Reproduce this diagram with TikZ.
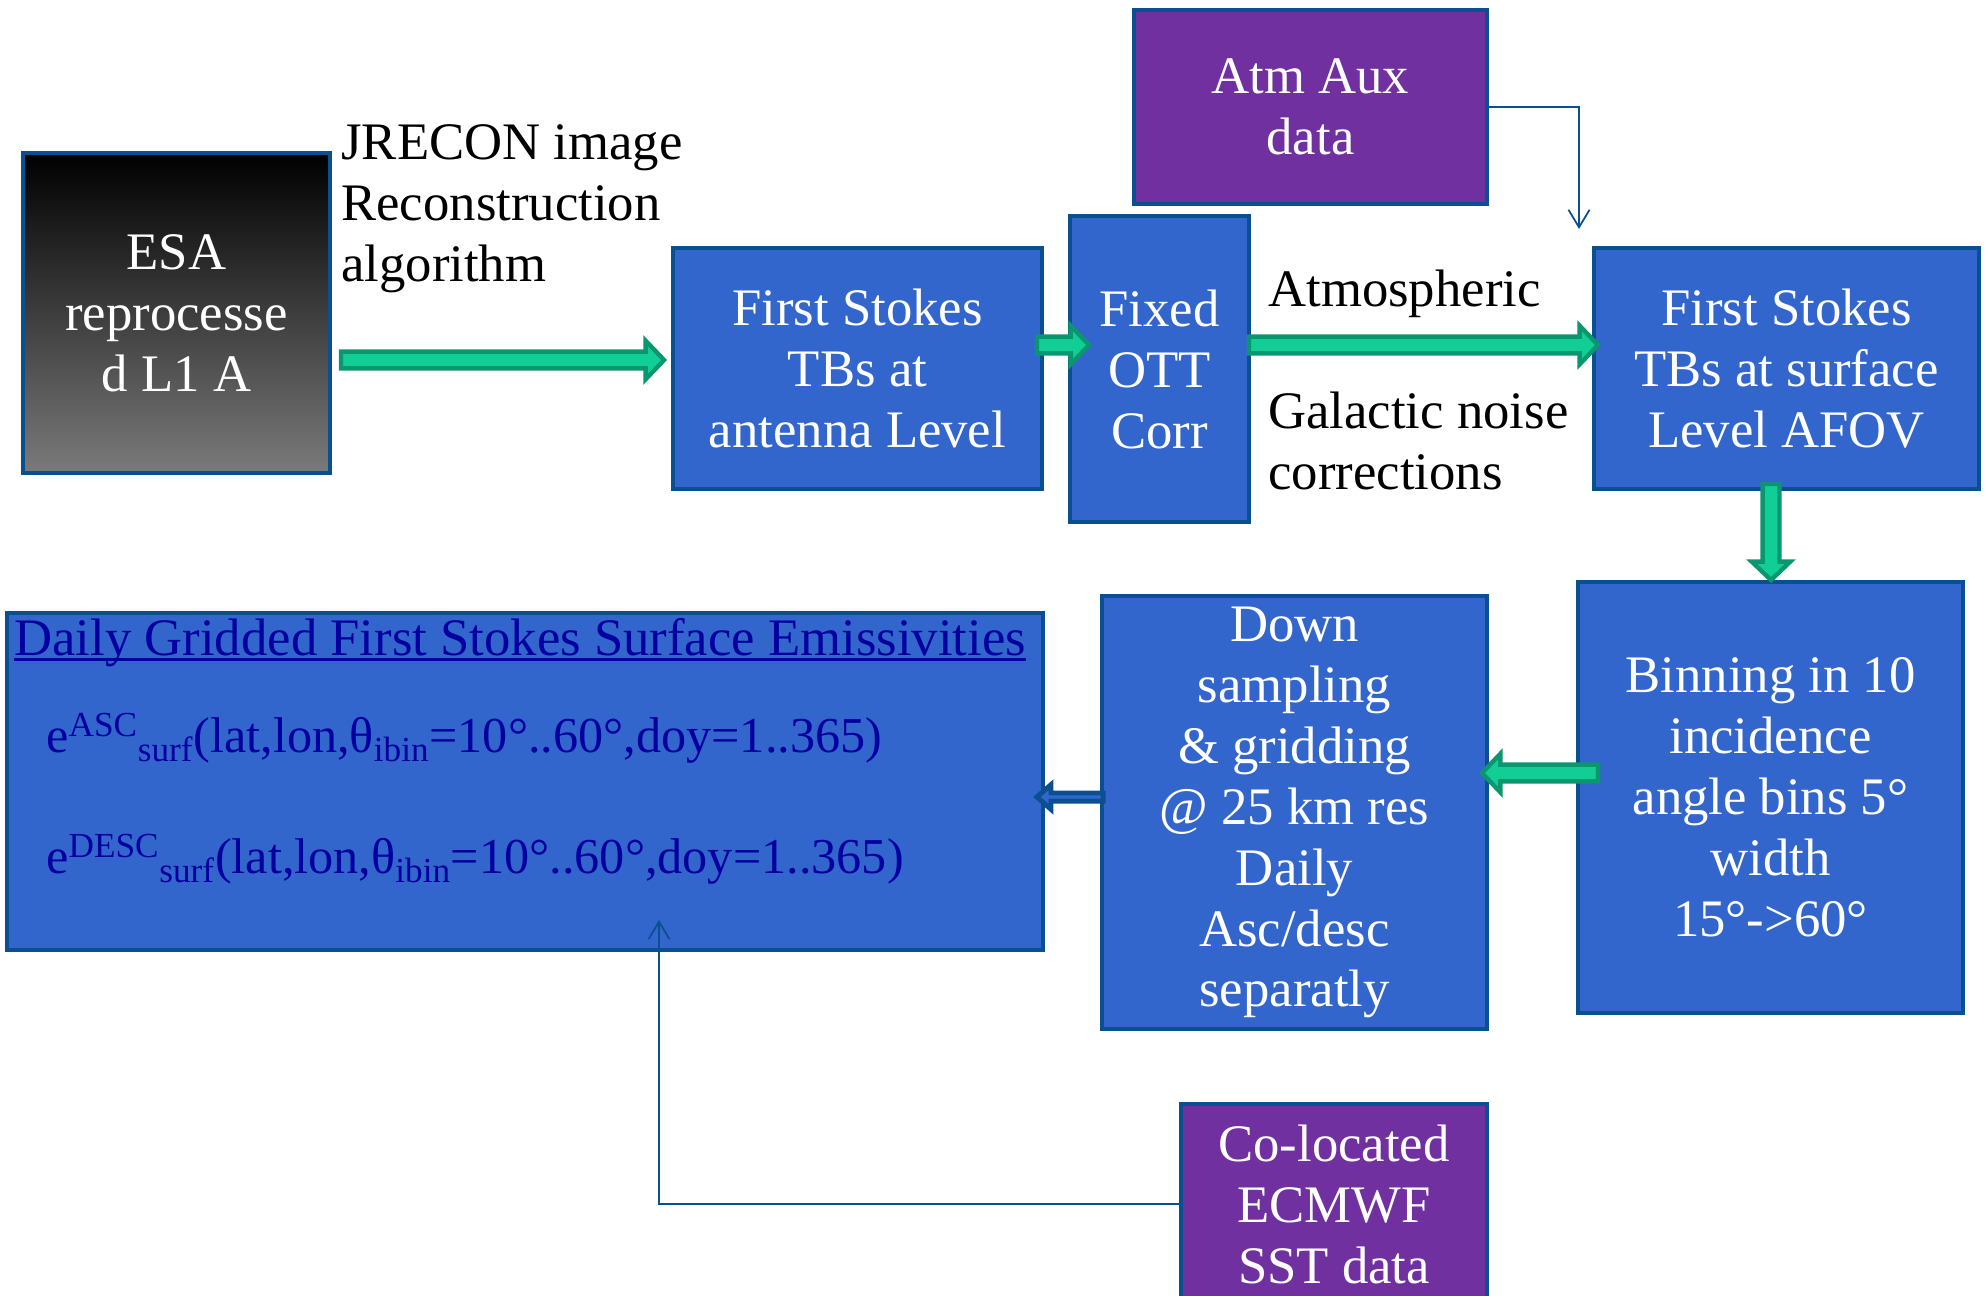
\documentclass[tikz,border=0pt]{standalone}
\usepackage{fontspec}
\setmainfont{Liberation Serif}
\usetikzlibrary{arrows.meta,calc,positioning}

\definecolor{boxblue}{RGB}{51,102,204}
\definecolor{boxline}{RGB}{10,80,145}
\definecolor{auxpurple}{RGB}{112,48,160}
\definecolor{arrowgreen}{RGB}{17,206,150}
\definecolor{arrowdark}{RGB}{10,150,110}
\definecolor{esagray}{RGB}{122,122,122}
\definecolor{eqnavy}{RGB}{0,0,160}

\tikzset{fat shaft/.initial=4.8pt, fat head/.initial=11pt, fat len/.initial=10.5pt}

% block arrow from #2 to #3
\newcommand{\fatarrow}[3][]{%
  \draw[greenarrow,#1] let \p1=(#2), \p2=(#3),
      \n1={veclen(\x2-\x1,\y2-\y1)}, \n2={(\x2-\x1)/\n1}, \n3={(\y2-\y1)/\n1},
      \n4={\pgfkeysvalueof{/tikz/fat shaft}}, \n5={\pgfkeysvalueof{/tikz/fat head}},
      \n6={\n1-\pgfkeysvalueof{/tikz/fat len}} in
    ({\x1-\n3*\n4},{\y1+\n2*\n4}) -- ({\x1+\n2*\n6-\n3*\n4},{\y1+\n3*\n6+\n2*\n4})
    -- ({\x1+\n2*\n6-\n3*\n5},{\y1+\n3*\n6+\n2*\n5}) -- (\p2)
    -- ({\x1+\n2*\n6+\n3*\n5},{\y1+\n3*\n6-\n2*\n5}) -- ({\x1+\n2*\n6+\n3*\n4},{\y1+\n3*\n6-\n2*\n4})
    -- ({\x1+\n3*\n4},{\y1-\n2*\n4}) -- cycle;}

\newcommand{\undertext}[1]{\setbox0\hbox{#1}\rlap{\rule[-3.4pt]{\wd0}{1.5pt}}\box0}

\begin{document}
\begin{tikzpicture}[x=0.02cm, y=-0.02cm,
    every node/.style={font=\fontsize{30}{34.7}\selectfont},
    box/.style={draw=boxline, line width=2.5pt, outer sep=0pt, text=white, align=center, inner sep=0pt},
    bluebox/.style={box, fill=boxblue},
    purplebox/.style={box, fill=auxpurple},
    greenarrow/.style={draw=arrowdark, fill=arrowgreen, line width=2.5pt},
    bluearrow/.style={draw=boxline, fill=boxblue, line width=2.8pt, fat shaft=2.3pt, fat head=7pt, fat len=8pt},
    thinarrow/.style={draw=boxline, line width=1pt, -{Straight Barb[length=10pt,width=12pt]}},
    eqtext/.style={text=eqnavy, anchor=base west, inner sep=0pt}]
    \useasboundingbox (0,0) rectangle (1988,1295);
    \clip (0,0) rectangle (1988,1295);

    \node[box, top color=black, bottom color=esagray, minimum width=6.14cm, minimum height=6.4cm] (esa) at (176.5,313) {ESA\\reprocesse\\d L1 A};
    \node[anchor=north west, align=left, inner sep=0pt] (jrecon) at (341,124) {JRECON image\\Reconstruction\\algorithm};

    \node[bluebox, minimum width=7.38cm, minimum height=4.82cm] (ant) at (857.5,368.5) {First Stokes\\TBs at\\antenna Level};
    \node[bluebox, minimum width=3.58cm, minimum height=6.12cm] (ott) at (1159.5,369) {Fixed\\OTT\\Corr};
    \node[purplebox, minimum width=7.06cm, minimum height=3.88cm] (aux) at (1310.5,107) {Atm Aux\\data};
    \node[bluebox, minimum width=7.7cm, minimum height=4.82cm] (surf) at (1786.5,368.5) {First Stokes\\TBs at surface\\Level AFOV};

    % label
    \node[anchor=base west, inner sep=0pt] (atm) at (1268,306) {Atmospheric};
    \node[anchor=north west, align=left, inner sep=0pt] (galac) at (1268,392) {Galactic noise\\corrections};

    \node[bluebox, minimum width=7.7cm, minimum height=8.62cm] (bin) at (1770.5,797.5) {Binning in 10\\incidence\\angle bins 5°\\width\\15°->60°};
    \node[bluebox, minimum width=7.7cm, minimum height=8.66cm] (down) at (1294.5,812.5) {Down\\sampling\\\& gridding\\@ 25 km res\\Daily\\Asc/desc\\separatly};
    \node[bluebox, minimum width=20.72cm, minimum height=6.74cm] (daily) at (525,781.5) {};
    \node[purplebox, minimum width=6.12cm, minimum height=4cm] (sst) at (1334,1204) {Co-located\\ECMWF\\SST data};

    % emissivities
    \node[eqtext] (title) at (14,655) {\undertext{Daily Gridded First Stokes Surface Emissivities}};
    \node[eqtext, font=\fontsize{28.6}{34}\selectfont] (asc) at (46,752) {e\textsuperscript{ASC}\textsubscript{surf}(lat,lon,θ\textsubscript{ibin}=10°..60°,doy=1..365)};
    \node[eqtext, font=\fontsize{28.6}{34}\selectfont] (desc) at (46,873) {e\textsuperscript{DESC}\textsubscript{surf}(lat,lon,θ\textsubscript{ibin}=10°..60°,doy=1..365)};

    \fatarrow{$(esa.east)+(11,47)$}{$(ant.west)+(-9,-8.5)$}
    \fatarrow{$(ant.east)+(-5,-23.5)$}{$(ott.west)+(19,-24)$}
    \fatarrow{$(ott.east)+(0,-24)$}{$(surf.west)+(4,-23.5)$}
    \fatarrow{$(surf.south)+(-15.5,-5)$}{$(bin.north)+(0.5,-2)$}
    \fatarrow{$(bin.west)+(20,-24.5)$}{$(down.east)+(-5,-39.5)$}
    \fatarrow[bluearrow]{$(down.west)+(1,-15.5)$}{$(daily.east)+(-6,15.5)$}

    \coordinate (auxend) at (1579,229);
    \coordinate (sstend) at (659,920);
    \draw[thinarrow] (aux.east) -| (auxend);
    \draw[thinarrow] (sst.west) -| (sstend);
\end{tikzpicture}
\end{document}
